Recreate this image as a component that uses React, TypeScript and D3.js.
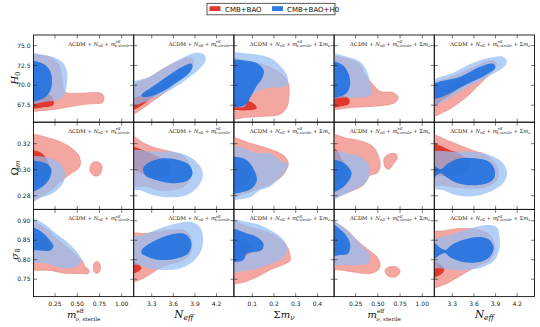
import React from 'react';
import * as d3 from 'd3';

type Pt = [number, number];
type Ring = Pt[];

const mDomain = [0.008, 1.135];
const nDomain = [3.05, 4.44];
const sDomain = [0.015, 0.477];
const h0Domain = [65.35, 76.34];
const omDomain = [0.2695, 0.3365];
const s8Domain = [0.7055, 0.929];

const mTicks = [0.25, 0.5, 0.75, 1.0];
const nTicks = [3.3, 3.6, 3.9, 4.2];
const sTicks = [0.1, 0.2, 0.3, 0.4];
const h0Ticks = [67.5, 70, 72.5, 75];
const omTicks = [0.28, 0.3, 0.32];
const s8Ticks = [0.75, 0.8, 0.85, 0.9];

const legendLabels = ['CMB+BAO', 'CMB+BAO+H0'];

// ---- contours, row H0 ----
const h0M_r95: Ring[] = [[[-0.05,73.6],[0.137,73.7],[0.25,73.2],[0.306,72.2],[0.329,71.0],[0.34,69.7],[0.374,69.1],[0.532,69.0],[0.70,69.1],[0.768,69.0],[0.80,68.5],[0.78,67.8],[0.712,67.7],[0.588,67.6],[0.419,67.3],[0.25,66.97],[0.081,66.8],[-0.05,66.8]]];
const h0M_r68: Ring[] = [[[-0.05,69.6],[0.1,69.4],[0.19,68.8],[0.235,68.0],[0.23,67.5],[0.137,67.25],[-0.05,67.2]]];
const h0M_b95: Ring[] = [[[-0.05,73.97],[0.115,73.84],[0.25,73.47],[0.34,72.84],[0.385,71.72],[0.385,70.34],[0.363,69.09],[0.329,68.47],[0.25,68.09],[0.16,67.97],[-0.05,67.84]]];
const h0M_b68: Ring[] = [[[-0.05,72.97],[0.115,72.72],[0.194,71.84],[0.216,70.47],[0.194,69.22],[0.115,68.34],[-0.05,68.09]]];

const h0N_r95: Ring[] = [[[2.99,69.6],[3.271,71.0],[3.506,72.34],[3.686,73.09],[3.824,73.47],[3.88,73.09],[3.852,72.22],[3.686,70.72],[3.479,69.09],[3.271,67.72],[3.133,66.84],[2.99,66.22]]];
const h0N_r68: Ring[] = [[[2.99,68.0],[3.2,68.9],[3.45,70.1],[3.62,71.1],[3.66,70.9],[3.5,69.7],[3.3,68.4],[3.15,67.4],[2.99,66.8]]];
const h0N_b95: Ring[] = [[[2.99,70.09],[3.271,71.09],[3.506,72.34],[3.728,73.47],[3.921,74.09],[4.032,73.84],[4.046,73.09],[3.963,72.09],[3.742,70.47],[3.548,69.34],[3.354,68.47],[3.174,67.8],[2.99,67.4]]];
const h0N_b68: Ring[] = [[[3.161,68.84],[3.313,69.84],[3.548,71.34],[3.728,72.34],[3.852,72.72],[3.866,72.34],[3.824,71.59],[3.645,70.34],[3.451,69.22],[3.271,68.59],[3.161,68.59]]];

const h0S_r95: Ring[] = [[[-0.02,73.22],[0.089,72.97],[0.167,72.47],[0.227,71.59],[0.25,70.97],[0.268,70.09],[0.268,68.59],[0.259,67.22],[0.227,66.34],[0.149,66.09],[0.075,65.97],[-0.02,65.97]]];
const h0S_r68: Ring[] = [[[-0.02,68.5],[0.06,68.2],[0.11,67.6],[0.12,67.1],[0.08,66.85],[0.02,66.9],[-0.02,67.0]]];
const h0S_b95: Ring[] = [[[-0.02,73.84],[0.089,73.97],[0.181,73.47],[0.236,72.22],[0.259,71.34],[0.264,70.47],[0.25,69.84],[0.195,69.72],[0.144,69.47],[0.089,68.59],[0.066,67.34],[0.043,67.22],[-0.02,67.59]]];
const h0S_b68: Ring[] = [[[-0.02,72.97],[0.075,73.09],[0.126,72.72],[0.153,71.84],[0.144,70.84],[0.121,69.97],[0.098,68.84],[0.075,67.72],[0.047,67.34],[-0.02,67.59]]];

const h0M2_r95: Ring[] = [[[-0.05,73.47],[0.188,73.22],[0.301,72.59],[0.357,71.34],[0.447,70.09],[0.526,69.22],[0.672,69.09],[0.729,68.47],[0.695,67.84],[0.56,67.47],[0.413,67.34],[0.222,67.22],[0.042,66.97],[-0.05,66.97]]];
const h0M2_r68: Ring[] = [[[-0.05,69.0],[0.1,68.8],[0.18,68.2],[0.17,67.6],[0.09,67.35],[-0.05,67.3]]];
const h0M2_b95: Ring[] = [[[-0.05,73.84],[0.154,73.59],[0.301,72.97],[0.38,71.72],[0.413,70.34],[0.436,69.09],[0.391,68.59],[0.267,68.47],[0.109,68.47],[-0.05,68.47]]];
const h0M2_b68: Ring[] = [[[-0.05,72.97],[0.098,72.59],[0.166,71.59],[0.188,70.09],[0.154,69.09],[0.076,68.59],[-0.05,68.47]]];

const h0N2_r95: Ring[] = [[[2.99,69.8],[3.34,71.22],[3.617,72.34],[3.824,73.09],[3.907,72.97],[3.88,71.97],[3.714,70.47],[3.52,68.72],[3.34,67.47],[3.202,66.72],[2.99,66.09]]];
const h0N2_r68: Ring[] = [[[2.99,69.0],[3.271,69.97],[3.479,70.97],[3.576,71.22],[3.548,70.6],[3.382,69.5],[3.202,68.4],[2.99,67.2]]];
const h0N2_b95: Ring[] = [[[2.99,70.3],[3.313,71.59],[3.589,72.84],[3.824,73.47],[4.004,73.59],[4.06,72.97],[4.004,72.22],[3.783,71.09],[3.506,69.72],[3.271,68.47],[2.99,67.34]]];
const h0N2_b68: Ring[] = [[[2.99,69.9],[3.41,71.09],[3.686,72.34],[3.866,72.72],[3.894,72.22],[3.769,71.34],[3.493,70.09],[3.313,69.22],[3.133,68.47],[2.99,68.34]]];

// ---- contours, row Omega_m ----
const omM_r95: Ring[] = [
  [[-0.05,0.3257],[0.188,0.3242],[0.346,0.3204],[0.436,0.3165],[0.515,0.3111],[0.537,0.305],[0.515,0.3011],[0.436,0.2973],[0.38,0.2946],[0.312,0.2907],[0.154,0.2819],[-0.05,0.2765]],
  [[0.644,0.3019],[0.678,0.3057],[0.745,0.3057],[0.779,0.3027],[0.757,0.2965],[0.712,0.295],[0.656,0.2973]],
];
const omM_r68: Ring[] = [[[-0.05,0.3142],[0.08,0.3135],[0.15,0.309],[0.19,0.302],[0.17,0.294],[0.08,0.289],[-0.05,0.2875]]];
const omM_b95: Ring[] = [[[-0.05,0.3088],[0.194,0.3088],[0.306,0.305],[0.363,0.2973],[0.34,0.2896],[0.228,0.2819],[0.081,0.2781],[-0.05,0.2742]]];
const omM_b68: Ring[] = [[[-0.05,0.3061],[0.115,0.3057],[0.194,0.3023],[0.211,0.2984],[0.177,0.2919],[0.081,0.2857],[-0.05,0.283]]];

const omN_r95: Ring[] = [[[2.99,0.3265],[3.188,0.3204],[3.368,0.3165],[3.548,0.3142],[3.714,0.3111],[3.783,0.308],[3.852,0.298],[3.811,0.2904],[3.686,0.2857],[3.41,0.2842],[3.23,0.2873],[2.99,0.2881]]];
const omN_r68: Ring[] = [[[2.99,0.3173],[3.2,0.3145],[3.4,0.3095],[3.55,0.304],[3.56,0.298],[3.42,0.294],[3.25,0.2955],[3.1,0.299],[2.99,0.302]]];
const omN_b95: Ring[] = [[[2.99,0.3138],[3.32,0.3138],[3.596,0.3138],[3.824,0.31],[3.963,0.3034],[4.011,0.2957],[3.942,0.2869],[3.783,0.2804],[3.548,0.2788],[3.32,0.2804],[3.133,0.2842],[2.99,0.2857]]];
const omN_b68: Ring[] = [[[3.181,0.3011],[3.278,0.3061],[3.458,0.3088],[3.686,0.3073],[3.824,0.3034],[3.866,0.2973],[3.804,0.2919],[3.596,0.2896],[3.368,0.2919],[3.209,0.2957]]];

const omS_r95: Ring[] = [[[-0.02,0.3242],[0.089,0.3204],[0.167,0.3165],[0.213,0.3138],[0.25,0.31],[0.266,0.305],[0.259,0.3011],[0.241,0.2957],[0.213,0.2919],[0.181,0.2888],[0.135,0.2857],[0.066,0.2819],[-0.02,0.2796]]];
const omS_r68: Ring[] = [[[-0.02,0.305],[0.06,0.304],[0.09,0.299],[0.085,0.292],[0.05,0.287],[-0.02,0.286]]];
const omS_b95: Ring[] = [[[-0.02,0.3177],[0.059,0.3165],[0.121,0.3127],[0.181,0.3127],[0.227,0.3073],[0.266,0.3034],[0.25,0.2984],[0.213,0.2919],[0.181,0.2869],[0.135,0.2842],[0.089,0.2788],[0.043,0.2773],[-0.02,0.2773]]];
const omS_b68: Ring[] = [[[-0.02,0.3088],[0.059,0.3088],[0.089,0.305],[0.112,0.2984],[0.121,0.2919],[0.098,0.2857],[0.059,0.283],[-0.02,0.2823]]];

const omM2_r95: Ring[] = [
  [[-0.05,0.3265],[0.149,0.3242],[0.335,0.3215],[0.447,0.3177],[0.503,0.3111],[0.526,0.3023],[0.487,0.2973],[0.413,0.2957],[0.335,0.2881],[0.132,0.2819],[-0.05,0.2788]],
  [[0.571,0.3088],[0.639,0.3123],[0.706,0.3119],[0.717,0.3088],[0.672,0.3042],[0.627,0.3004],[0.582,0.3019]],
];
const omM2_r68: Ring[] = [[[-0.05,0.317],[0.04,0.315],[0.09,0.3085],[0.15,0.302],[0.15,0.296],[0.09,0.291],[-0.05,0.289]]];
const omM2_b95: Ring[] = [[[-0.05,0.3138],[0.149,0.3127],[0.301,0.31],[0.391,0.305],[0.413,0.2984],[0.374,0.2907],[0.261,0.2857],[0.109,0.2804],[-0.05,0.2773]]];
const omM2_b68: Ring[] = [[[-0.05,0.3073],[0.092,0.3061],[0.166,0.3023],[0.205,0.2973],[0.166,0.2907],[0.092,0.2857],[-0.05,0.2827]]];

const omN2_r95: Ring[] = [[[2.99,0.3265],[3.223,0.3227],[3.451,0.3177],[3.638,0.3138],[3.721,0.3127],[3.859,0.3073],[3.935,0.2996],[3.914,0.2919],[3.776,0.2869],[3.548,0.2857],[3.306,0.2869],[3.174,0.2881],[2.99,0.2888]]];
const omN2_r68: Ring[] = [[[2.99,0.3204],[3.24,0.3157],[3.44,0.311],[3.55,0.3055],[3.5,0.2985],[3.3,0.295],[3.1,0.296],[2.99,0.297]]];
const omN2_b95: Ring[] = [[[2.99,0.3127],[3.313,0.3138],[3.589,0.3138],[3.824,0.3111],[4.004,0.305],[4.06,0.2973],[4.004,0.2896],[3.824,0.2831],[3.589,0.2796],[3.361,0.2804],[3.174,0.2842],[2.99,0.2869]]];
const omN2_b68: Ring[] = [[[2.99,0.305],[3.133,0.3004],[3.244,0.305],[3.41,0.3088],[3.617,0.3088],[3.797,0.3065],[3.88,0.3011],[3.88,0.2934],[3.783,0.2896],[3.548,0.2881],[3.34,0.2904],[3.202,0.295],[3.133,0.2973],[2.99,0.2919]]];

// ---- contours, row sigma_8 ----
const s8M_r95: Ring[] = [
  [[-0.05,0.8982],[0.16,0.8777],[0.306,0.847],[0.453,0.8187],[0.554,0.7982],[0.588,0.7829],[0.633,0.7726],[0.622,0.7649],[0.532,0.7649],[0.385,0.7649],[0.194,0.7726],[-0.05,0.7803]],
  [[0.689,0.7905],[0.723,0.7957],[0.757,0.788],[0.757,0.7726],[0.723,0.7649],[0.689,0.77]],
];
const s8M_r68: Ring[] = [[[-0.05,0.87],[0.1,0.858],[0.18,0.84],[0.2,0.83],[0.13,0.826],[-0.05,0.829]]];
const s8M_b95: Ring[] = [[[-0.05,0.9059],[0.121,0.8931],[0.233,0.8726],[0.38,0.847],[0.492,0.8213],[0.548,0.7982],[0.492,0.7829],[0.38,0.7777],[0.267,0.7829],[0.154,0.7905],[-0.05,0.7982]]];
const s8M_b68: Ring[] = [[[-0.05,0.8854],[0.121,0.8675],[0.194,0.8495],[0.233,0.834],[0.194,0.8239],[0.081,0.8239],[-0.05,0.829]]];

const s8N_r95: Ring[] = [[[2.99,0.8636],[3.23,0.8675],[3.41,0.8726],[3.596,0.8764],[3.783,0.8726],[3.852,0.8508],[3.824,0.8123],[3.686,0.7957],[3.506,0.7867],[3.368,0.7739],[3.23,0.7572],[3.133,0.7482],[2.99,0.7444]]];
const s8N_r68: Ring[] = [[[2.99,0.797],[3.1,0.79],[3.16,0.779],[3.11,0.769],[2.99,0.766]]];
const s8N_b95: Ring[] = [[[2.99,0.8546],[3.181,0.8636],[3.41,0.8803],[3.645,0.8931],[3.852,0.897],[3.963,0.8854],[4.011,0.8598],[3.99,0.8252],[3.873,0.7957],[3.686,0.7777],[3.458,0.7739],[3.271,0.7777],[3.133,0.7867],[2.99,0.7905]]];
const s8N_b68: Ring[] = [[[3.161,0.8252],[3.271,0.8418],[3.458,0.8585],[3.645,0.8675],[3.783,0.8636],[3.852,0.8418],[3.804,0.8162],[3.645,0.8034],[3.41,0.7995],[3.251,0.8072],[3.161,0.8162]]];

const s8S_r95: Ring[] = [[[-0.02,0.8944],[0.103,0.8816],[0.181,0.8687],[0.227,0.8534],[0.259,0.8354],[0.273,0.8149],[0.273,0.797],[0.25,0.7893],[0.181,0.7739],[0.112,0.7534],[0.043,0.7405],[-0.02,0.7405]]];
const s8S_r68: Ring[] = [[[-0.02,0.852],[0.06,0.848],[0.1,0.835],[0.1,0.82],[0.06,0.81],[-0.02,0.805]]];
const s8S_b95: Ring[] = [[[-0.02,0.8995],[0.075,0.897],[0.135,0.8893],[0.19,0.8739],[0.236,0.8559],[0.259,0.8354],[0.255,0.8149],[0.227,0.7995],[0.172,0.7867],[0.112,0.7764],[0.056,0.7713],[-0.02,0.7687]]];
const s8S_b68: Ring[] = [[[-0.02,0.8803],[0.075,0.8675],[0.121,0.8585],[0.151,0.8418],[0.144,0.8252],[0.105,0.82],[0.075,0.8162],[0.059,0.7995],[0.02,0.7944],[-0.02,0.7944]]];

const s8M2_r95: Ring[] = [
  [[-0.05,0.8982],[0.149,0.8764],[0.261,0.8508],[0.374,0.829],[0.447,0.8162],[0.503,0.8034],[0.526,0.7867],[0.503,0.7739],[0.413,0.7649],[0.222,0.7687],[0.076,0.7739],[-0.05,0.7777]],
  [[0.582,0.7739],[0.627,0.7816],[0.706,0.7816],[0.751,0.7713],[0.717,0.7585],[0.638,0.756],[0.593,0.7636]],
];
const s8M2_r68: Ring[] = [[[-0.05,0.86],[0.09,0.85],[0.14,0.83],[0.1,0.817],[-0.05,0.815]]];
const s8M2_b95: Ring[] = [[[-0.05,0.9021],[0.109,0.8841],[0.222,0.8585],[0.335,0.8328],[0.413,0.8123],[0.391,0.7905],[0.301,0.7867],[0.149,0.7867],[-0.05,0.7905]]];
const s8M2_b68: Ring[] = [[[-0.05,0.8931],[0.109,0.8713],[0.188,0.8418],[0.166,0.8162],[0.076,0.8123],[-0.05,0.8123]]];

const s8N2_r95: Ring[] = [[[2.99,0.8675],[3.174,0.8739],[3.334,0.879],[3.451,0.8803],[3.679,0.8764],[3.818,0.8636],[3.887,0.838],[3.866,0.8123],[3.797,0.7957],[3.679,0.7867],[3.499,0.7687],[3.313,0.7482],[3.174,0.7354],[2.99,0.7303]]];
const s8N2_r68: Ring[] = [[[2.99,0.8],[3.12,0.79],[3.19,0.776],[3.14,0.762],[2.99,0.755]]];
const s8N2_b95: Ring[] = [[[2.99,0.8457],[3.271,0.8636],[3.548,0.8803],[3.776,0.8893],[3.914,0.8841],[3.956,0.8585],[3.949,0.8252],[3.887,0.7995],[3.728,0.7816],[3.499,0.7739],[3.313,0.7739],[3.154,0.7777],[2.99,0.7816]]];
const s8N2_b68: Ring[] = [[[2.99,0.8482],[3.195,0.8252],[3.292,0.838],[3.444,0.8508],[3.679,0.8585],[3.818,0.8508],[3.873,0.8303],[3.818,0.8072],[3.679,0.7944],[3.444,0.7944],[3.264,0.8072],[3.195,0.8175],[2.99,0.7995]]];

const grid: Ring[][][][] = [
  [[h0M_r95, h0M_r68, h0M_b95, h0M_b68], [h0N_r95, h0N_r68, h0N_b95, h0N_b68], [h0S_r95, h0S_r68, h0S_b95, h0S_b68], [h0M2_r95, h0M2_r68, h0M2_b95, h0M2_b68], [h0N2_r95, h0N2_r68, h0N2_b95, h0N2_b68]],
  [[omM_r95, omM_r68, omM_b95, omM_b68], [omN_r95, omN_r68, omN_b95, omN_b68], [omS_r95, omS_r68, omS_b95, omS_b68], [omM2_r95, omM2_r68, omM2_b95, omM2_b68], [omN2_r95, omN2_r68, omN2_b95, omN2_b68]],
  [[s8M_r95, s8M_r68, s8M_b95, s8M_b68], [s8N_r95, s8N_r68, s8N_b95, s8N_b68], [s8S_r95, s8S_r68, s8S_b95, s8S_b68], [s8M2_r95, s8M2_r68, s8M2_b95, s8M2_b68], [s8N2_r95, s8N2_r68, s8N2_b95, s8N2_b68]],
];

// layout
const colX = [33.5, 133.7, 233.9, 334.1, 434.3];
const rowY = [35, 122.2, 209.4];
const PW = 100.2;
const PH = 87.2;
const TICK = 3.5;

const RED = '#e2392e';
const BLUE = '#2a7de3';

const colSpecs = [
  { domain: mDomain, ticks: mTicks, fmt: d3.format('.2f') },
  { domain: nDomain, ticks: nTicks, fmt: d3.format('.1f') },
  { domain: sDomain, ticks: sTicks, fmt: d3.format('.1f') },
  { domain: mDomain, ticks: mTicks, fmt: d3.format('.2f') },
  { domain: nDomain, ticks: nTicks, fmt: d3.format('.1f') },
];
const rowSpecs = [
  { domain: h0Domain, ticks: h0Ticks, fmt: d3.format('.1f') },
  { domain: omDomain, ticks: omTicks, fmt: d3.format('.2f') },
  { domain: s8Domain, ticks: s8Ticks, fmt: d3.format('.2f') },
];

const fills = [
  { fill: '#f4a7a1', opacity: 1, stroke: '#e9837c' },
  { fill: RED, opacity: 1, stroke: 'none' },
  { fill: '#94bef2', opacity: 0.72, stroke: 'none' },
  { fill: '#1a6ee0', opacity: 0.87, stroke: 'none' },
];

const Title = ({ x, y, withSum }: { x: number; y: number; withSum: boolean }) => (
  <text x={x} y={y} textAnchor="end" fontFamily="DejaVu Serif" fontSize={5.3} fill="#111">
    ΛCDM + <tspan fontStyle="italic">N</tspan>
    <tspan fontSize={3.6} dy={1.2}>eff</tspan>
    <tspan dy={-1.2}> + </tspan>
    <tspan fontStyle="italic">m</tspan>
    <tspan fontSize={3.6} dy={-2.3}>eff</tspan>
    <tspan fontSize={3.6} dx={-5.6} dy={3.8} fontStyle="italic">ν</tspan>
    <tspan fontSize={3.6}>,sterile</tspan>
    {withSum ? (
      <>
        <tspan dy={-1.5}> + Σ</tspan>
        <tspan fontStyle="italic">m</tspan>
        <tspan fontSize={3.6} dy={1.2} fontStyle="italic">ν</tspan>
      </>
    ) : null}
  </text>
);

const MeffLabel = ({ x }: { x: number }) => (
  <text x={x} y={318} textAnchor="middle" fontFamily="DejaVu Serif" fontSize={10} fill="#111">
    <tspan fontStyle="italic">m</tspan>
    <tspan fontSize={5.5} dy={-5}>eff</tspan>
    <tspan fontSize={5.5} dx={-8} dy={7.5} fontStyle="italic">ν</tspan>
    <tspan fontSize={5.5}>, sterile</tspan>
  </text>
);

const NeffLabel = ({ x }: { x: number }) => (
  <text x={x} y={318} textAnchor="middle" fontFamily="DejaVu Serif" fontSize={10.5} fontStyle="italic" fill="#111">
    N<tspan fontSize={7.5} dy={2}>eff</tspan>
  </text>
);

const SumLabel = ({ x }: { x: number }) => (
  <text x={x} y={318} textAnchor="middle" fontFamily="DejaVu Serif" fontSize={10} fill="#111">
    Σ<tspan fontStyle="italic">m</tspan>
    <tspan fontSize={7} dy={2} fontStyle="italic">ν</tspan>
  </text>
);

export default function App() {
  const xScales = colSpecs.map((s, c) => d3.scaleLinear().domain(s.domain).range([colX[c], colX[c] + PW]));
  const yScales = rowSpecs.map((s, r) => d3.scaleLinear().domain(s.domain).range([rowY[r] + PH, rowY[r]]));

  const panels: JSX.Element[] = [];
  grid.forEach((row, r) => {
    row.forEach((contours, c) => {
      const xs = xScales[c];
      const ys = yScales[r];
      const gen = d3
        .line<Pt>()
        .x((d) => xs(d[0]))
        .y((d) => ys(d[1]))
        .curve(d3.curveCatmullRomClosed.alpha(0.5));
      const id = `clip-${r}-${c}`;
      const x0 = colX[c];
      const y0 = rowY[r];
      panels.push(
        <g key={id}>
          <clipPath id={id}>
            <rect x={x0} y={y0} width={PW} height={PH} />
          </clipPath>
          <g clipPath={`url(#${id})`}>
            {contours.map((rings, k) => (
              <path
                key={k}
                d={rings.map((ring) => gen(ring)).join('')}
                fill={fills[k].fill}
                fillOpacity={fills[k].opacity}
                stroke={fills[k].stroke}
                strokeWidth={0.6}
              />
            ))}
          </g>
          {colSpecs[c].ticks.map((t) => (
            <g key={`xt${t}`} stroke="#222" strokeWidth={0.6}>
              <line x1={xs(t)} x2={xs(t)} y1={y0 + PH} y2={y0 + PH - TICK} />
              <line x1={xs(t)} x2={xs(t)} y1={y0} y2={y0 + TICK} />
            </g>
          ))}
          {rowSpecs[r].ticks.map((t) => (
            <g key={`yt${t}`} stroke="#222" strokeWidth={0.6}>
              <line x1={x0} x2={x0 + TICK} y1={ys(t)} y2={ys(t)} />
              <line x1={x0 + PW} x2={x0 + PW - TICK} y1={ys(t)} y2={ys(t)} />
            </g>
          ))}
          <rect x={x0} y={y0} width={PW} height={PH} fill="none" stroke="#111" strokeWidth={0.9} />
          <Title x={x0 + PW - 4} y={y0 + 10.5} withSum={c >= 2} />
        </g>
      );
    });
  });

  const bottom = rowY[2] + PH;

  return (
    <svg width={540} height={327} style={{ position: 'absolute', left: 0, top: 0, background: '#fff' }}>
      {panels}

      {/* y tick labels */}
      {rowSpecs.map((s, r) =>
        s.ticks.map((t) => (
          <text key={`yl${r}-${t}`} x={30.5} y={yScales[r](t)} dy="0.35em" textAnchor="end" fontFamily="DejaVu Sans" fontSize={6} fill="#222">
            {s.fmt(t)}
          </text>
        ))
      )}
      {/* x tick labels */}
      {colSpecs.map((s, c) =>
        s.ticks.map((t) => (
          <text key={`xl${c}-${t}`} x={xScales[c](t)} y={bottom + 9} textAnchor="middle" fontFamily="DejaVu Sans" fontSize={6} fill="#222">
            {s.fmt(t)}
          </text>
        ))
      )}

      {/* axis labels */}
      <text transform="translate(17.5,78) rotate(-90)" textAnchor="middle" fontFamily="DejaVu Serif" fontSize={10} fill="#111">
        <tspan fontStyle="italic">H</tspan>
        <tspan fontSize={7} dy={2}>0</tspan>
      </text>
      <text transform="translate(17.5,168) rotate(-90)" textAnchor="middle" fontFamily="DejaVu Serif" fontSize={10} fill="#111">
        Ω<tspan fontSize={7} dy={2} fontStyle="italic">m</tspan>
      </text>
      <text transform="translate(17.5,254) rotate(-90)" textAnchor="middle" fontFamily="DejaVu Serif" fontSize={10} fill="#111">
        <tspan fontStyle="italic">σ</tspan>
        <tspan fontSize={7} dy={2}>8</tspan>
      </text>

      <MeffLabel x={colX[0] + PW / 2} />
      <NeffLabel x={colX[1] + PW / 2} />
      <SumLabel x={colX[2] + PW / 2} />
      <MeffLabel x={colX[3] + PW / 2} />
      <NeffLabel x={colX[4] + PW / 2} />

      {/* legend */}
      <rect x={207} y={3.3} width={128} height={11.5} fill="#fff" stroke="#333" strokeWidth={0.8} />
      <rect x={209.5} y={6.2} width={11} height={4.8} fill={RED} />
      <text x={225} y={11.5} fontFamily="DejaVu Sans" fontSize={7} fill="#111">{legendLabels[0]}</text>
      <rect x={272} y={6.2} width={11} height={4.8} fill={BLUE} />
      <text x={287} y={11.5} fontFamily="DejaVu Sans" fontSize={7} fill="#111">{legendLabels[1]}</text>
    </svg>
  );
}
